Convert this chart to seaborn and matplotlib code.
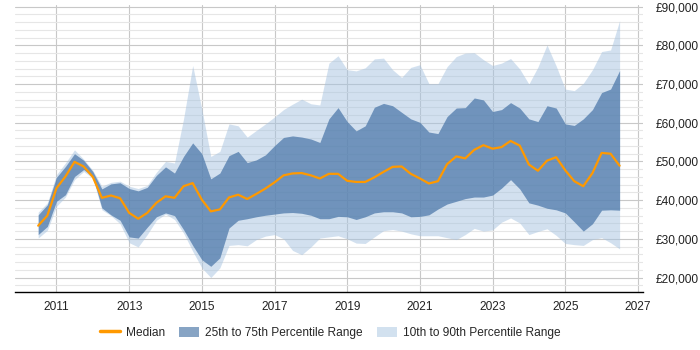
import numpy as np
import pandas as pd
import matplotlib
matplotlib.use("Agg")
import matplotlib.pyplot as plt
import matplotlib.ticker as mticker
from matplotlib.lines import Line2D
from matplotlib.patches import Patch
import seaborn as sns

# ── Data (quarterly) ─────────────────────────────────────────────────────────
quarters = pd.date_range("2010-07-01", "2026-07-01", freq="QS")

median = [33400, 36000, 43100, 46100, 49900, 48700, 46000, 40600, 41200, 40500,
          36700, 35200, 36700, 39300, 41000, 40600, 43600, 44400, 40100, 37100,
          37600, 40700, 41400, 40300, 41600, 43000, 44600, 46400, 46900, 47000,
          46400, 45600, 46800, 46800, 45000, 44700, 44700, 45900, 47300, 48600,
          48700, 46800, 45600, 44300, 44900, 49300, 51300, 50800, 53000, 54200,
          53300, 53700, 55300, 54100, 49200, 47600, 50200, 51100, 47700, 44900,
          43600, 47000, 52200, 52000, 48900]

p75 = [36200, 38800, 45900, 48700, 52000, 50300, 47400, 42900, 44200, 44500,
       43000, 42400, 43300, 46400, 48600, 47000, 51300, 54800, 52000, 45500,
       47000, 51500, 52600, 49700, 50400, 51700, 54100, 56200, 56600, 56300,
       55800, 54900, 61000, 63900, 60300, 57900, 59200, 64000, 65000, 64400,
       62700, 61000, 60100, 57600, 57200, 61600, 63800, 63900, 66400, 65900,
       62900, 63400, 65200, 63800, 61000, 60300, 64400, 63800, 59700, 59300,
       61000, 63400, 67800, 68700, 73500]

p25 = [31100, 33200, 39700, 41400, 46100, 47900, 46100, 38000, 36200, 34800,
       30500, 30200, 33000, 35700, 36700, 36000, 32400, 28300, 24600, 22900,
       25100, 32800, 34800, 35200, 35700, 36100, 36400, 36700, 36800, 36600,
       36100, 35200, 35200, 35800, 35700, 35000, 35700, 36700, 37000, 37000,
       36700, 35700, 35800, 36200, 37700, 39000, 39700, 40400, 40800, 40800,
       41300, 43100, 45300, 42900, 39300, 38700, 37900, 37500, 36700, 34400,
       32000, 33900, 37400, 37500, 37400]

p90 = [36900, 39300, 46600, 49600, 53000, 50600, 47700, 43600, 44600, 44900,
       43600, 43000, 43800, 47200, 50000, 49600, 61000, 74800, 63500, 51300,
       52600, 59700, 59200, 56300, 58000, 59700, 61500, 63400, 64800, 66100,
       64900, 64600, 75400, 77300, 73700, 73400, 74200, 76500, 76700, 73700,
       71700, 74300, 75000, 70100, 70100, 74500, 77100, 78000, 78100, 76300,
       74800, 75400, 76600, 73900, 70000, 74400, 80100, 74700, 68700, 68300,
       70200, 73700, 78400, 78800, 86400]

p10 = [30200, 32200, 38400, 40800, 45300, 47400, 45700, 37500, 36000, 33900,
       29000, 27900, 31100, 34800, 36400, 35000, 31500, 26800, 22500, 20000,
       22500, 28300, 28500, 28200, 29800, 30700, 31100, 30000, 27000, 25900,
       27900, 30200, 30500, 30800, 30000, 28900, 28800, 30500, 32100, 32400,
       32000, 31300, 30800, 30800, 30800, 30300, 29800, 31100, 32700, 32000,
       32300, 34300, 35400, 34100, 31100, 31900, 32600, 30900, 28800, 28500,
       28300, 29800, 30300, 29000, 27400]

tick_years = [2011, 2013, 2015, 2017, 2019, 2021, 2023, 2025, 2027]

df = pd.DataFrame({"date": quarters, "median": median, "p25": p25,
                   "p75": p75, "p10": p10, "p90": p90})

# ── Style ────────────────────────────────────────────────────────────────────
sns.set_theme(style="white")
plt.rcParams["font.family"] = ["Liberation Sans", "DejaVu Sans"]

ORANGE = "#ff9900"
DARK = "#4f7aab"
LIGHT = "#a6c3e0"

fig, ax = plt.subplots(figsize=(7, 3.5), dpi=100)
fig.subplots_adjust(left=0.021, right=0.919, top=0.986, bottom=0.165)

ax.fill_between(df["date"], df["p10"], df["p90"], color=LIGHT, alpha=0.5,
                linewidth=0, zorder=2)
ax.fill_between(df["date"], df["p25"], df["p75"], color=DARK, alpha=0.75,
                linewidth=0, zorder=3)
sns.lineplot(data=df, x="date", y="median", color=ORANGE, linewidth=1.6,
             ax=ax, zorder=4)

# axes
ax.set_xlim(pd.Timestamp("2009-11-07"), pd.Timestamp("2027-02-24"))
ax.set_ylim(16200, 90450)
ax.set_xticks([pd.Timestamp(f"{y}-01-01") for y in tick_years])
ax.set_xticklabels([str(y) for y in tick_years], fontsize=8.6)
ax.yaxis.tick_right()
ax.yaxis.set_major_locator(mticker.MultipleLocator(10000))
ax.yaxis.set_minor_locator(mticker.MultipleLocator(2000))
ax.yaxis.set_major_formatter(mticker.FuncFormatter(lambda v, p: f"£{v:,.0f}"))
ax.tick_params(axis="y", which="both", length=0, pad=9, labelsize=8.6,
               colors="#222222")
ax.tick_params(axis="x", length=3, width=0.8, color="black", pad=3,
               colors="#222222")
ax.set_xlabel("")
ax.set_ylabel("")

ax.grid(axis="x", color="#c8c8c8", linewidth=0.8, zorder=1)
ax.grid(axis="y", which="major", color="#c8c8c8", linewidth=0.8, zorder=1)
ax.grid(axis="y", which="minor", color="#e6e6e6", linewidth=0.8, zorder=1)
ax.set_axisbelow(True)

for side in ["top", "right", "left"]:
    ax.spines[side].set_visible(False)
ax.spines["bottom"].set_color("black")
ax.spines["bottom"].set_linewidth(1.0)

handles = [
    Line2D([0], [0], color=ORANGE, linewidth=2.5),
    Patch(facecolor="#87a4c4", edgecolor="none"),
    Patch(facecolor="#d2e1ef", edgecolor="none"),
]
labels = ["Median", "25th to 75th Percentile Range", "10th to 90th Percentile Range"]
fig.legend(handles, labels, loc="center", bbox_to_anchor=(0.472, 0.049),
           ncol=3, frameon=False, fontsize=8.6, handlelength=1.65,
           handleheight=1.0, columnspacing=1.2, handletextpad=0.5)

plt.savefig("out.png", dpi=100)
plt.close()
